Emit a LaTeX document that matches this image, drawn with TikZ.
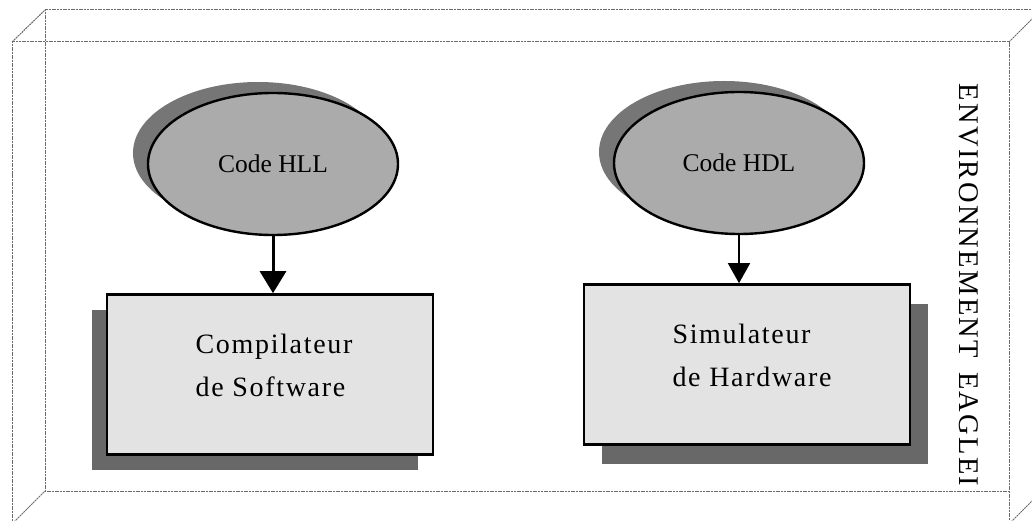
\documentclass[tikz,border=0pt]{standalone}
\usepackage{fontspec}
\setmainfont{Liberation Serif}
\newfontfamily\boxfont[LetterSpace=6]{Liberation Serif}
\newfontfamily\envfont[LetterSpace=8]{Liberation Serif}
\usetikzlibrary{shapes.geometric, arrows.meta, positioning, shadows}
\definecolor{ovalgray}{HTML}{ABABAB}
\definecolor{ovalshade}{HTML}{767676}
\definecolor{boxgray}{HTML}{E3E3E3}
\definecolor{boxshade}{HTML}{686868}
\definecolor{rimgray}{HTML}{6A6A6A}
\tikzset{
  source/.style={
    ellipse, draw=black, line width=2.4pt, fill=ovalgray,
    minimum width=250pt, minimum height=142pt, inner sep=0pt,
    font=\fontsize{25.5}{30}\selectfont,
    general shadow={fill=ovalshade, shadow xshift=-15pt, shadow yshift=11pt}
  },
  toolbox/.style={
    rectangle, draw=black, line width=2.6pt, fill=boxgray,
    minimum width=326pt, minimum height=160pt, align=left,
    font=\boxfont\fontsize{28}{43}\selectfont
  },
  shadeleft/.style={
    general shadow={fill=boxshade, shadow xshift=-15pt, shadow yshift=-15pt}
  },
  shaderight/.style={
    general shadow={fill=boxshade, shadow xshift=18pt, shadow yshift=-19pt}
  },
  rim/.style={
    dash pattern=on 2pt off 0.7pt, line width=1pt, color=rimgray
  }
}

\begin{document}
\begin{tikzpicture}[
  x=1pt, y=-1pt,
  node distance=50pt,
  arrow/.style={-{Triangle[length=22pt, width=26pt]}, line width=3pt},
  thinarrow/.style={-{Triangle[length=20pt, width=22pt]}, line width=1.6pt}
]
\useasboundingbox (0,0) rectangle (1032,521);

% Box outline
\begin{scope}
\clip (0,0) rectangle (1032,521);
\draw[rim] (12,540) -- (12,42) -- (1009,42) -- (1009,540);
\draw[rim] (1050,10) -- (45,10) -- (45,491) -- (1009,491);
\draw[rim] (12,42) -- (45,10);
\draw[rim] (1009,42) -- (1041,10);
\draw[rim] (12,524) -- (45,491);
\draw[rim] (1009,524) -- (1042,491);
\end{scope}

% Sources
\node[source] (hll) at (273,164) {Code HLL};
\node[source] (hdl) at (739,163) {Code HDL};

% Tools
\node[toolbox, shadeleft, below=57pt of hll, xshift=-3pt] (compil) {\hspace*{8pt}Compilateur\\\hspace*{8pt}de Software\\[-25pt]};
\node[toolbox, shaderight, below=48pt of hdl, xshift=8pt] (simul) {\hspace*{10pt}Simulateur\\\hspace*{10pt}de Hardware\\[-25pt]};

% Arrows
\draw[arrow] (hll) -- (hll |- compil.north);
\draw[thinarrow] (hdl) -- (hdl |- simul.north);

% Label
\node[rotate=-90, font=\envfont\fontsize{28.5}{30}\selectfont] (env) at (969,285) {ENVIRONNEMENT\hspace{14pt}EAGLEI};

\end{tikzpicture}
\end{document}
